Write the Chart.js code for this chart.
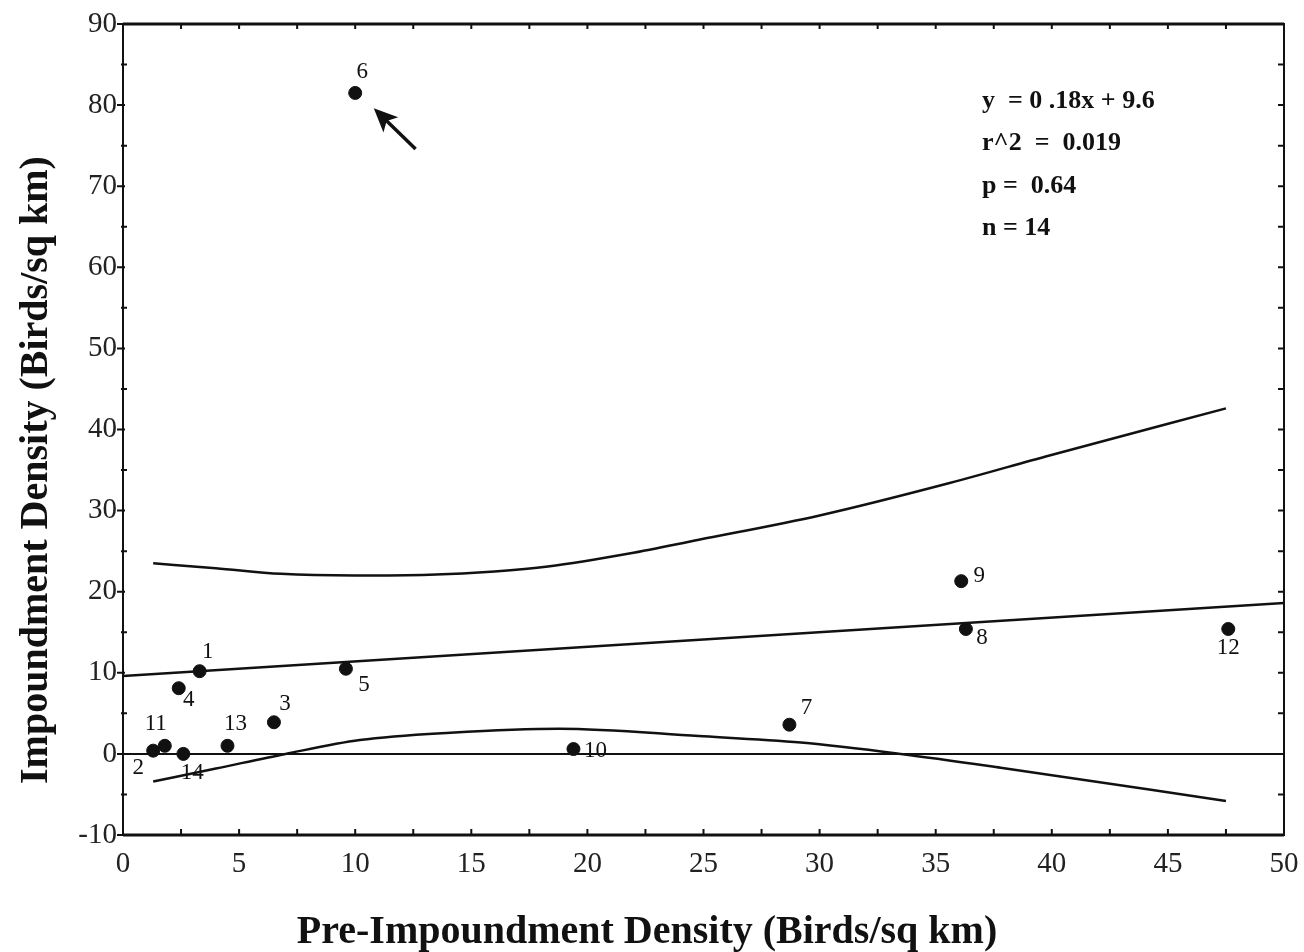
<!DOCTYPE html>
<html>
<head>
<meta charset="utf-8">
<script src="https://cdn.jsdelivr.net/npm/chart.js@4.4.1/dist/chart.umd.min.js"></script>
<style>
  html, body { margin: 0; padding: 0; background: #fff; }
  #wrap { width: 1304px; height: 952px; }
</style>
</head>
<body>
<div id="wrap"><canvas id="myChart" width="1304" height="952"></canvas></div>
<script>
// site numbers and densities (birds / sq km)
const siteNumbers = [1, 2, 3, 4, 5, 6, 7, 8, 9, 10, 11, 12, 13, 14];
const preDensity = [3.3, 1.3, 6.5, 2.4, 9.6, 10.0, 28.7, 36.3, 36.1, 19.4, 1.8, 47.6, 4.5, 2.6];
const impDensity = [10.2, 0.4, 3.9, 8.1, 10.5, 81.5, 3.6, 15.4, 21.3, 0.6, 1.0, 15.4, 1.0, 0.0];

// regression line y = 0.18x + 9.6
const fitX = [0, 50];
const fitY = [9.6, 18.6];

// confidence band curves
const upperX = [1.3, 4, 6.8, 10, 13.2, 16, 18.3, 21.8, 24.8, 30, 35.6, 39.9, 47.5];
const upperY = [23.5, 22.9, 22.2, 22.0, 22.1, 22.5, 23.1, 24.7, 26.4, 29.4, 33.4, 36.8, 42.6];
const lowerX = [1.3, 4, 7, 10.2, 14.1, 18.8, 24.8, 29.2, 33.5, 37.8, 47.5];
const lowerY = [-3.4, -1.8, 0, 1.7, 2.6, 3.1, 2.2, 1.4, 0, -1.7, -5.8];

const zeroX = [0, 50];
const zeroY = [0, 0];

const xTicks = [0, 5, 10, 15, 20, 25, 30, 35, 40, 45, 50];
const yTicks = [-10, 0, 10, 20, 30, 40, 50, 60, 70, 80, 90];

const xTitle = 'Pre-Impoundment Density (Birds/sq km)';
const yTitle = 'Impoundment Density (Birds/sq km)';
const statLines = ['y  = 0 .18x + 9.6', 'r^2  =  0.019', 'p =  0.64', 'n = 14'];

function pairs(xs, ys) {
    return xs.map(function (x, i) { return { x: x, y: ys[i] }; });
}

// label offsets in pixels, per site
const labelOffsets = {
    1: [8, -19], 2: [-15, 17], 3: [11, -18], 4: [10, 12], 5: [18, 16],
    6: [7, -21], 7: [17, -17], 8: [16, 9], 9: [18, -5], 10: [22, 2],
    11: [-9, -22], 12: [0, 19], 13: [8, -22], 14: [9, 19]
};

const serif = '"Liberation Serif", "DejaVu Serif", serif';

const lineStyle = {
    type: 'line', showLine: true, borderColor: '#111', borderWidth: 2.5,
    pointRadius: 0, fill: false
};

const framePlugin = {
    id: 'frame',
    afterDraw: function (chart) {
        const c = chart.ctx, a = chart.chartArea;
        const xs = chart.scales.x, ys = chart.scales.y;
        c.save();
        c.strokeStyle = '#111';
        c.lineWidth = 2;
        c.strokeRect(a.left, a.top, a.right - a.left, a.bottom - a.top);
        c.lineWidth = 3;
        c.beginPath(); c.moveTo(a.left, a.top); c.lineTo(a.right, a.top); c.stroke();
        c.beginPath(); c.moveTo(a.left, a.bottom); c.lineTo(a.right, a.bottom); c.stroke();

        c.lineWidth = 2;
        // left / right ticks every 5
        for (let v = -10; v <= 90; v += 5) {
            const py = ys.getPixelForValue(v);
            const major = v % 10 === 0;
            c.beginPath();
            c.moveTo(a.left - (major ? 6 : 2), py); c.lineTo(a.left + (major ? 2 : 4), py);
            c.moveTo(a.right - 6, py); c.lineTo(a.right, py);
            c.stroke();
        }
        // top / bottom ticks every 2.5
        for (let v = 0; v <= 50; v += 2.5) {
            const px = xs.getPixelForValue(v);
            c.beginPath();
            c.moveTo(px, a.bottom); c.lineTo(px, a.bottom - 6);
            c.moveTo(px, a.top); c.lineTo(px, a.top + 5);
            c.stroke();
        }

        // site labels
        const meta = chart.getDatasetMeta(4);
        c.fillStyle = '#111';
        c.font = '23px ' + serif;
        c.textAlign = 'center';
        c.textBaseline = 'middle';
        meta.data.forEach(function (pt, i) {
            const n = siteNumbers[i];
            const off = labelOffsets[n];
            c.fillText(String(n), pt.x + off[0], pt.y + off[1]);
        });

        // arrow pointing to site 6
        const tipX = xs.getPixelForValue(10.8), tipY = ys.getPixelForValue(79.6);
        const tailX = xs.getPixelForValue(12.6), tailY = ys.getPixelForValue(74.6);
        const ang = Math.atan2(tipY - tailY, tipX - tailX);
        c.lineWidth = 3.5;
        c.beginPath(); c.moveTo(tailX, tailY);
        c.lineTo(tipX - 16 * Math.cos(ang), tipY - 16 * Math.sin(ang)); c.stroke();
        c.beginPath();
        c.moveTo(tipX, tipY);
        c.lineTo(tipX - 26 * Math.cos(ang - 0.42), tipY - 26 * Math.sin(ang - 0.42));
        c.lineTo(tipX - 18 * Math.cos(ang), tipY - 18 * Math.sin(ang));
        c.lineTo(tipX - 26 * Math.cos(ang + 0.42), tipY - 26 * Math.sin(ang + 0.42));
        c.closePath(); c.fill();

        // statistics box
        c.font = 'bold 26px ' + serif;
        c.textAlign = 'left';
        statLines.forEach(function (s, i) {
            c.fillText(s, a.left + 859, a.top + 77 + i * 42.5);
        });

        // axis titles
        c.font = 'bold 40px ' + serif;
        c.textAlign = 'center';
        c.textBaseline = 'alphabetic';
        c.fillText(xTitle, 647, 943);
        c.translate(47, 470);
        c.rotate(-Math.PI / 2);
        c.fillText(yTitle, 0, 0);
        c.restore();
    }
};

const myChart = new Chart(document.getElementById('myChart'), {
    type: 'scatter',
    data: {
        datasets: [
            Object.assign({ label: 'zero', data: pairs(zeroX, zeroY) }, lineStyle, { borderWidth: 2 }),
            Object.assign({ label: 'fit', data: pairs(fitX, fitY) }, lineStyle),
            Object.assign({ label: 'upper', data: pairs(upperX, upperY), tension: 0.4, cubicInterpolationMode: 'monotone' }, lineStyle),
            Object.assign({ label: 'lower', data: pairs(lowerX, lowerY), tension: 0.4, cubicInterpolationMode: 'monotone' }, lineStyle),
            {
                label: 'sites',
                data: pairs(preDensity, impDensity),
                backgroundColor: '#111',
                borderColor: '#111',
                pointRadius: 6.5,
                pointHoverRadius: 6.5
            }
        ]
    },
    options: {
        responsive: false,
        animation: false,
        layout: { padding: { top: 24, right: 20, left: 0, bottom: 0 } },
        plugins: { legend: { display: false }, tooltip: { enabled: false } },
        scales: {
            x: {
                type: 'linear', min: 0, max: 50,
                afterBuildTicks: function (s) { s.ticks = xTicks.map(function (v) { return { value: v }; }); },
                afterFit: function (s) { s.height = 117; s.paddingLeft = 0; s.paddingRight = 0; },
                grid: { display: false, drawTicks: false, tickLength: 0 },
                border: { display: false },
                ticks: { color: '#222', padding: 12, font: { family: serif, size: 29 }, maxRotation: 0 }
            },
            y: {
                type: 'linear', min: -10, max: 90,
                afterBuildTicks: function (s) { s.ticks = yTicks.map(function (v) { return { value: v }; }); },
                afterFit: function (s) { s.width = 123; s.paddingTop = 0; s.paddingBottom = 0; },
                grid: { display: false, drawTicks: false, tickLength: 0 },
                border: { display: false },
                ticks: { color: '#222', padding: 6, font: { family: serif, size: 29 } }
            }
        }
    },
    plugins: [framePlugin]
});
</script>
</body>
</html>
